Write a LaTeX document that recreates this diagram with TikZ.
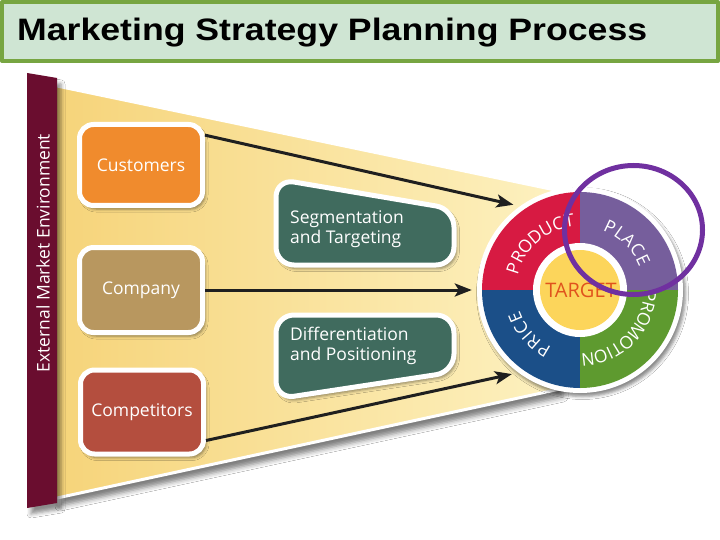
\documentclass[tikz,border=0pt]{standalone}
\usepackage{fontspec}
\usepackage{graphicx}
\setmainfont{Open Sans}
\newfontfamily\titlefont{Liberation Sans}
\usetikzlibrary{shadows.blur,arrows.meta}
\definecolor{titlefill}{HTML}{CFE5D3}
\definecolor{titleborder}{HTML}{77A541}
\definecolor{maroon}{HTML}{6A0D2F}
\definecolor{funL}{HTML}{F6D47A}
\definecolor{funR}{HTML}{FDF1C0}
\definecolor{custc}{HTML}{F08B2D}
\definecolor{compc}{HTML}{B8975F}
\definecolor{rivc}{HTML}{B44E3E}
\definecolor{tealc}{HTML}{406B5E}
\definecolor{prodc}{HTML}{D71A42}
\definecolor{placec}{HTML}{765E9C}
\definecolor{pricec}{HTML}{1B4F88}
\definecolor{promc}{HTML}{5E9A2F}
\definecolor{targc}{HTML}{FCD55B}
\definecolor{targtext}{HTML}{E0531D}
\definecolor{annot}{HTML}{7030A0}
\newcommand{\labfont}{\fontsize{17.5}{20.5}\selectfont}
\newcommand{\ringfont}{\fontsize{17.5}{17.5}\selectfont}
\tikzset{
  softshadow/.style={blur shadow={shadow xshift=2.5pt, shadow yshift=-3.5pt, shadow blur radius=3pt, shadow opacity=45}},
  lbox/.style={rounded corners=14, draw=white, line width=5, minimum width=123, inner sep=0, text=white, font=\labfont, softshadow},
  mbox/.style={fill=tealc, draw=white, line width=5, rounded corners=18, softshadow},
  mtext/.style={text=white, font=\labfont, align=left, anchor=west, inner sep=0},
  arr/.style={line width=3, draw=black!88, -{Stealth[length=17, width=13, inset=4]}},
  ringletter/.style={text=white, font=\ringfont, inner sep=0, anchor=center}
}
\begin{document}
\begin{tikzpicture}[x=1pt, y=1pt, line join=round]
\useasboundingbox (0,0) rectangle (720,-540);
\fill[white] (0,0) rectangle (720,-540);

% title
\draw[fill=titlefill, draw=titleborder, line width=4] (2,-2) rectangle (718,-61);
\node[anchor=base west, inner sep=0] (title) at (17,-41)
  {\titlefont\bfseries\fontsize{31}{31}\selectfont\scalebox{1.15}[1]{Marketing Strategy Planning Process}};

% funnel
\fill[white, blur shadow={shadow xshift=3pt, shadow yshift=-8pt, shadow blur radius=5pt, shadow opacity=50}]
  (57,-86) -- (560,-191) -- (560,-389) -- (57,-498) -- cycle;
\shade[left color=funL, right color=funR] (57,-86) -- (560,-191) -- (560,-389) -- (57,-498) -- cycle;
\draw[white, line width=3] (57,-86) -- (560,-191);
\draw[white, line width=3] (57,-498) -- (560,-389);

% environment bar
\fill[maroon, blur shadow={shadow xshift=4pt, shadow yshift=-6pt, shadow blur radius=4pt, shadow opacity=45}]
  (27,-73) -- (57,-78) -- (57,-503) -- (27,-508) -- cycle;
\node[rotate=90, text=white, font=\labfont, inner sep=0] (env) at (43,-253) {External Market Environment};

% marketing mix wheel
\begin{scope}[shift={(580,-290)}]
  \fill[white, softshadow] (0,0) circle[radius=103];
  \fill[prodc] (0,0) -- (90:98) arc[start angle=90, end angle=180, radius=98] -- cycle;
  \fill[placec] (0,0) -- (0:98) arc[start angle=0, end angle=90, radius=98] -- cycle;
  \fill[pricec] (0,0) -- (180:98) arc[start angle=180, end angle=270, radius=98] -- cycle;
  \fill[promc] (0,0) -- (270:98) arc[start angle=270, end angle=360, radius=98] -- cycle;
  \fill[white] (0,0) circle[radius=47];
  \fill[targc] (0,0) circle[radius=40];
  \foreach \ch/\a [count=\i] in {P/162, R/152, O/141.5, D/130, U/119, C/108.5, T/99}
    \node[ringletter, rotate=\a-90] (prod\i) at (\a:70) {\ch};
  \foreach \ch/\a [count=\i] in {P/64.5, L/55, A/45.5, C/35, E/25.5}
    \node[ringletter, rotate=\a-90] (place\i) at (\a:70) {\ch};
  \foreach \ch/\a [count=\i] in {P/-5.5, R/-14.5, O/-24.7, M/-36.5, O/-48.5, T/-58.3, I/-64.8, O/-72.7, N/-83.5}
    \node[ringletter, rotate=\a-90] (prom\i) at (\a:70) {\ch};
  \foreach \ch/\a [count=\i] in {P/-121, R/-131.5, I/-139, C/-147, E/-157}
    \node[ringletter, rotate=\a-90] (price\i) at (\a:70) {\ch};
\end{scope}
\node[text=targtext, font=\fontsize{20}{20}\selectfont, inner sep=0] (target) at (581,-290) {TARGET};
\node[circle, minimum size=216, inner sep=0] (mix) at (580,-290) {};

% left boxes
\node[lbox, fill=custc, minimum height=81] (cust) at (141,-165) {Customers};
\node[lbox, fill=compc, minimum height=85] (comp) at (141,-290) {Company};
\node[lbox, fill=rivc, minimum height=84] (riv) at (142,-412) {Competitors};

% middle boxes
\draw[mbox] (276,-179) -- (454,-209) -- (454,-265) -- (276,-265) -- cycle;
\node[mtext] (seg) at (290,-229) {Segmentation\\and Targeting};
\draw[mbox] (276,-315) -- (454,-315) -- (454,-372) -- (276,-399) -- cycle;
\node[mtext] (diff) at (290,-346) {Differentiation\\and Positioning};

% arrows
\draw[arr] (cust.25) -- (mix.128);
\draw[arr] (comp.east) -- (mix.west);
\draw[arr] (riv.-24) -- (mix.-129);

% annotation
\draw[annot, line width=5] (633.5,-230) ellipse[x radius=69, y radius=64.5];
\end{tikzpicture}
\end{document}
